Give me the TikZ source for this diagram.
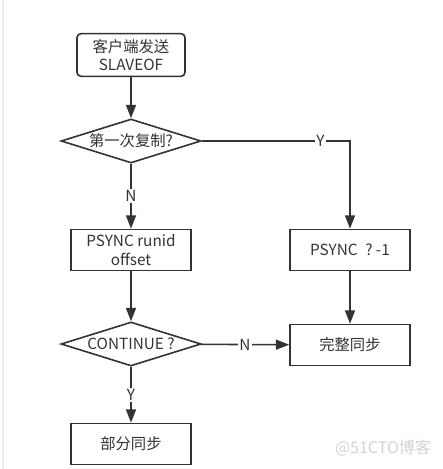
\documentclass[tikz,border=0pt]{standalone}
\usepackage{fontspec}
\setmainfont{Noto Sans CJK SC}
\usetikzlibrary{shapes.geometric,arrows.meta}

\begin{document}
\begin{tikzpicture}[
  x=0.75pt, y=-0.75pt,
  every node/.style={font=\fontsize{11.5}{14}\selectfont, text=black!80},
  box/.style={draw=black!80, line width=1.2pt, minimum width=90pt, minimum height=30.75pt, align=center, inner sep=1pt},
  dec/.style={draw=black!80, line width=1.2pt, diamond, aspect=3.2, inner sep=0pt, minimum width=105pt, minimum height=33pt},
  arr/.style={draw=black!80, line width=1.2pt, -{Triangle[length=10pt,width=7.5pt]}},
  lbl/.style={fill=white, inner sep=1pt},
]

\useasboundingbox (0,0) rectangle (443,469);
\draw [gray!15, line width=1pt] (3,0) -- (3,469);

\node [box, rounded corners=3pt, minimum width=81pt, minimum height=32pt] (send) at (131,55) {客户端发送\\SLAVEOF};
\node [dec] (first) at (131,141) {第一次复制?};
\node [box] (psync) at (131,250) {PSYNC runid\\offset};
\node [box] (psyncfull) at (350,250) {PSYNC\enspace ? -1};
\node [dec] (cont) at (131,344) {CONTINUE ?};
\node [box] (fullsync) at (350,345) {完整同步};
\node [box] (partsync) at (131,444) {部分同步};

\draw [arr] (send) -- (first);
\draw [arr] (first) -- node [lbl] {N} (psync);
\draw [arr] (first.east) -| node [lbl, pos=0.4] {Y} (psyncfull);
\draw [arr] (psync) -- (cont);
\draw [arr] (psyncfull) -- (fullsync);
\draw [arr] (cont) -- node [lbl] {N} (fullsync);
\draw [arr] (cont) -- node [lbl] {Y} (partsync);

\node [text=gray!35, font=\fontsize{12}{14}\selectfont] (mark) at (383,448) {@51CTO博客};

\end{tikzpicture}
\end{document}
